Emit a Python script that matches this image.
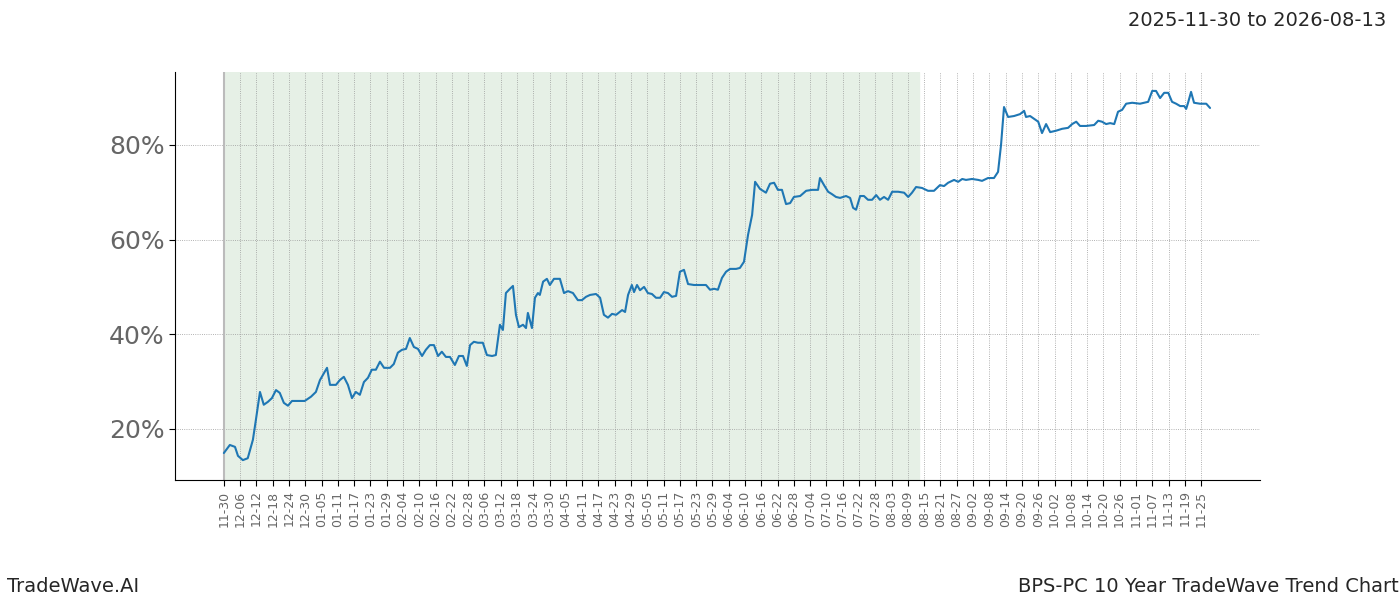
import numpy as np, pandas as pd, matplotlib
matplotlib.use("Agg")
import matplotlib.pyplot as plt, seaborn as sns
import matplotlib.dates as mdates

start_date = "2025-11-30"
shade_end = "2026-08-13"
day_offsets = [
0,2.2,4.1,5.2,7.0,8.8,10.7,11.8,13.3,14.7,
16.2,17.7,19.2,20.6,22.1,23.6,25.1,27.3,29.8,32.1,
33.9,35.4,36.9,38.0,39.1,41.3,42.7,44.2,45.7,47.2,
48.6,50.1,51.6,53.1,54.5,56.0,57.5,59.0,61.2,62.6,
64.1,65.6,67.1,68.5,70.0,71.5,73.0,74.4,75.9,77.4,
78.9,80.3,81.8,83.3,85.1,86.6,88.1,89.5,90.7,92.1,
93.6,95.4,96.9,98.8,100.2,101.7,102.8,103.9,105.4,106.5,
107.6,108.7,110.2,111.3,112.0,113.5,114.6,115.7,116.4,117.6,
119.0,120.1,121.6,123.8,125.3,126.8,128.6,130.4,131.9,133.4,
134.9,137.1,138.6,140.0,141.5,143.0,144.5,146.7,147.8,148.9,
150.3,151.1,152.2,153.3,154.8,156.2,157.7,159.2,160.7,162.1,
163.6,165.1,166.6,168.0,169.5,171.0,173.2,175.4,177.6,179.1,
180.6,182.0,183.5,185.0,186.5,188.7,190.1,191.6,193.1,194.6,
195.7,197.5,199.7,201.2,202.7,204.1,205.6,207.1,208.6,210.0,
212.3,214.5,216.7,218.9,219.6,221.1,222.6,224.0,225.5,227.0,
229.2,230.7,231.8,232.9,234.4,235.8,237.3,238.8,240.3,241.7,
243.2,244.7,246.2,248.4,250.6,252.1,253.5,255.0,257.2,259.4,
261.6,263.8,265.3,266.8,269.0,270.5,272.0,273.4,275.6,277.9,
279.3,281.5,283.7,285.2,286.3,287.4,288.9,291.1,293.3,294.8,
295.5,297.0,298.5,300.0,301.4,302.9,304.4,306.6,308.8,311.0,
312.5,314.0,315.4,317.6,320.6,322.1,323.5,325.0,326.5,328.0,
329.4,330.9,332.4,334.6,337.5,340.5,342.0,343.4,344.9,346.4,
347.9,349.3,350.8,352.3,353.8,354.5,355.2,356.3,357.4,359.6,
361.9,363.3]
values = [
14.9,16.6,16.2,14.3,13.4,13.8,17.7,21.9,27.8,25.1,
25.7,26.5,28.2,27.6,25.5,24.9,25.9,25.9,25.9,26.8,
27.8,30.3,31.8,32.9,29.3,29.3,30.3,31.0,29.3,26.5,
27.8,27.2,29.9,30.8,32.5,32.5,34.2,32.9,32.9,33.7,
36.1,36.7,36.9,39.2,37.3,36.9,35.4,36.7,37.7,37.7,
35.4,36.3,35.2,35.2,33.5,35.4,35.4,33.3,37.7,38.4,
38.2,38.2,35.6,35.4,35.6,42.0,40.9,48.7,49.6,50.2,
44.1,41.5,42.0,41.3,44.5,41.3,47.7,48.7,48.3,51.1,
51.7,50.4,51.7,51.7,48.7,49.1,48.7,47.2,47.2,47.9,
48.3,48.5,47.7,44.1,43.5,44.3,44.1,45.1,44.7,48.3,
50.4,48.9,50.4,49.3,50.0,48.7,48.5,47.7,47.7,48.9,
48.7,47.9,48.1,53.2,53.6,50.6,50.4,50.4,50.4,49.4,
49.6,49.4,51.9,53.2,53.8,53.8,54.0,55.3,61.0,65.2,
72.2,70.7,69.9,71.8,72.0,70.5,70.5,67.5,67.7,69.0,
69.2,70.3,70.5,70.5,73.0,71.5,70.1,69.6,69.0,68.8,
69.2,68.8,66.7,66.3,69.2,69.2,68.4,68.4,69.4,68.4,
69.0,68.4,70.1,70.1,69.9,69.0,69.9,71.1,70.9,70.3,
70.3,71.5,71.3,72.0,72.6,72.2,72.8,72.6,72.8,72.6,
72.4,73.0,73.0,74.3,80.0,88.0,85.9,86.1,86.5,87.2,
85.9,86.1,85.5,84.9,82.5,84.4,82.7,83.0,83.4,83.6,
84.4,84.9,84.0,84.0,84.2,85.1,84.9,84.4,84.6,84.4,
87.0,87.4,88.7,88.9,88.7,89.1,91.4,91.4,89.9,91.0,
91.0,89.1,88.7,88.2,88.2,87.6,88.9,91.2,88.9,88.7,
88.7,87.8]
y_ticks = [20, 40, 60, 80]

sns.set_style("white")
t0 = pd.Timestamp(start_date)
df = pd.DataFrame({"date": t0 + pd.to_timedelta(day_offsets, unit="D"), "pct": values})

fig = plt.figure(figsize=(14, 6), dpi=100)
ax = fig.add_axes([0.125, 0.2, 0.775, 0.68])
ax.axvspan(t0, pd.Timestamp(shade_end), color="#e6f0e6", zorder=0)
ax.axvline(t0, color="#bbbbbb", lw=1.5, zorder=1)
sns.lineplot(data=df, x="date", y="pct", ax=ax, color="#1f77b4", lw=1.5, zorder=3)

ticks = pd.date_range(t0, periods=61, freq="6D")
ax.set_xticks(ticks)
ax.set_xticklabels([d.strftime("%m-%d") for d in ticks], rotation=90, fontsize=9, color="#666666")
ax.set_yticks(y_ticks)
ax.set_yticklabels([f"{v}%" for v in y_ticks], fontsize=18, color="#666666")
ax.set_xlim(t0 - pd.Timedelta(days=18), t0 + pd.Timedelta(days=381.7))
ax.set_ylim(9.2, 95.4)
ax.grid(True, color="#999999", ls=":", lw=0.6)
ax.set_xlabel(""); ax.set_ylabel("")
for s in ["top", "right"]:
    ax.spines[s].set_visible(False)
ax.spines["left"].set_color("black"); ax.spines["bottom"].set_color("black")
ax.tick_params(axis="both", length=4, color="black", left=True, bottom=True)

fig.text(0.99, 0.965, "2025-11-30 to 2026-08-13", ha="right", va="center", fontsize=14)
fig.text(0.005, 0.022, "TradeWave.AI", ha="left", va="center", fontsize=14)
fig.text(0.999, 0.022, "BPS-PC 10 Year TradeWave Trend Chart", ha="right", va="center", fontsize=14)
fig.savefig("out.png")
